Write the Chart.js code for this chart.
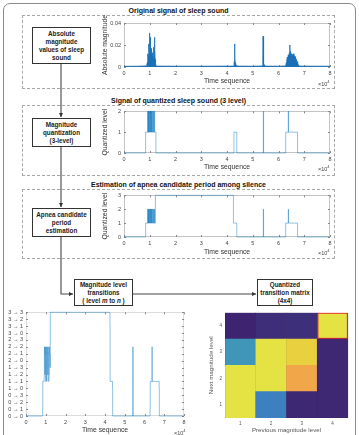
<!DOCTYPE html>
<html>
<head>
<meta charset="utf-8">
<script src="https://cdn.jsdelivr.net/npm/chart.js@4.4.0/dist/chart.umd.min.js"></script>
<style>
  body { margin: 0; background: #fff; font-family: "Liberation Sans", Arial, sans-serif; }
  #page { position: relative; width: 359px; height: 435px; overflow: hidden; }
  .outer { position: absolute; left: 3px; top: 3px; width: 351px; height: 440px; border: 1px solid #8c8c8c; border-radius: 7px; }
  .dash { position: absolute; left: 22px; width: 311px; border: 1px dashed #a8a8a8; }
  .ttl { position: absolute; left: 22px; width: 313px; text-align: center; font-weight: bold; font-size: 7px; line-height: 8px; color: #111; }
  .box { position: absolute; box-sizing: border-box; border: 1.5px solid #333; background: #fff; display: flex; align-items: center; justify-content: center; text-align: center; font-weight: bold; font-size: 6.3px; line-height: 8px; color: #222; white-space: nowrap; }
  canvas { position: absolute; }
  .exp { position: absolute; font-size: 5.5px; color: #444; line-height: 6px; }
  .exp sup { font-size: 4px; }
</style>
</head>
<body>
<div id="page">
  <div class="outer"></div>

  <div class="dash" style="top:15px;height:72px"></div>
  <div class="dash" style="top:105px;height:69px"></div>
  <div class="dash" style="top:189px;height:68px"></div>

  <svg width="359" height="435" style="position:absolute;left:0;top:0">
    <defs>
      <marker id="ar" markerWidth="4" markerHeight="4" refX="4" refY="2" orient="auto">
        <path d="M0,0 L4,2 L0,4 z" fill="#333"/>
      </marker>
    </defs>
    <path d="M61,64 V117" stroke="#444" stroke-width="1.1" fill="none" marker-end="url(#ar)"/>
    <path d="M61,147 V207" stroke="#444" stroke-width="1.1" fill="none" marker-end="url(#ar)"/>
    <path d="M61,237 V294 H73" stroke="#444" stroke-width="1.1" fill="none" marker-end="url(#ar)"/>
    <path d="M133,294 H256" stroke="#444" stroke-width="1.1" fill="none" marker-end="url(#ar)"/>
  </svg>

  <div class="ttl" style="top:7px">Original signal of sleep sound</div>
  <div class="ttl" style="top:97px">Signal of quantized sleep sound (3 level)</div>
  <div class="ttl" style="top:181px">Estimation of apnea candidate period among silence</div>

  <div class="box" style="left:32px;top:27px;width:59px;height:37px"><div>Absolute<br>magnitude<br>values of sleep<br>sound</div></div>
  <div class="box" style="left:32px;top:118px;width:59px;height:29px"><div>Magnitude<br>quantization<br>(3-level)</div></div>
  <div class="box" style="left:32px;top:208px;width:59px;height:29px"><div>Apnea candidate<br>period<br>estimation</div></div>
  <div class="box" style="left:74px;top:279px;width:59px;height:27px"><div>Magnitude level<br>transitions<br>( level <i>m</i> to <i>n</i> )</div></div>
  <div class="box" style="left:257px;top:279px;width:56px;height:27px"><div>Quantized<br>transition matrix<br>(4x4)</div></div>

  <canvas id="rawChart" width="235" height="74" style="left:100px;top:14px"></canvas>
  <canvas id="quantChart" width="235" height="69" style="left:100px;top:105px"></canvas>
  <canvas id="apneaChart" width="235" height="69" style="left:100px;top:189px"></canvas>
  <canvas id="transChart" width="190" height="129" style="left:0px;top:306px"></canvas>
  <canvas id="matrixChart" width="150" height="128" style="left:205px;top:307px"></canvas>

  <div class="exp" style="left:318px;top:79px">&times;10<sup>4</sup></div>
  <div class="exp" style="left:318px;top:164px">&times;10<sup>4</sup></div>
  <div class="exp" style="left:318px;top:248px">&times;10<sup>4</sup></div>
  <div class="exp" style="left:174px;top:428px">&times;10<sup>4</sup></div>
</div>

<script>
// time axis is in units of 10^4 samples
var timeTicks = [0, 1, 2, 3, 4, 5, 6, 7, 8];

// original signal (absolute magnitude)
var rawTime = [0, 0.5, 0.88,
    0.9, 0.91, 0.92, 0.93, 0.94, 0.95, 0.96, 0.97, 0.98, 0.99, 1.0, 1.01, 1.02, 1.03, 1.04, 1.05, 1.06,
    1.07, 1.08, 1.09, 1.1, 1.11, 1.12, 1.13, 1.14, 1.15, 1.16, 1.17, 1.18, 1.19, 1.2, 1.21, 1.22, 1.23,
    1.25, 2, 3,
    4.27, 4.28, 4.29, 4.3, 4.31, 4.32, 4.33, 4.35, 4.37, 5,
    5.38, 5.39, 5.4, 5.41, 5.42, 5.43, 5.44, 5.46, 6,
    6.28, 6.3, 6.32, 6.34, 6.36, 6.38, 6.4, 6.42, 6.44, 6.45, 6.46, 6.48, 6.5, 6.52, 6.54, 6.56, 6.58,
    6.6, 6.62, 6.64, 6.66, 6.68, 6.7, 6.72, 6.74, 6.76, 6.78, 6.8, 7.5, 8];
var rawMag = [0.0006, 0.0007, 0.001,
    0.004, 0.009, 0.006, 0.012, 0.01, 0.016, 0.011, 0.021, 0.013, 0.025, 0.031, 0.016, 0.027, 0.014, 0.019, 0.012, 0.017,
    0.011, 0.014, 0.01, 0.013, 0.009, 0.012, 0.008, 0.013, 0.01, 0.018, 0.012, 0.027, 0.011, 0.016, 0.007, 0.006, 0.003,
    0.0008, 0.0007, 0.0007,
    0.0008, 0.005, 0.021, 0.004, 0.008, 0.003, 0.004, 0.0015, 0.0008, 0.0007,
    0.0009, 0.006, 0.028, 0.005, 0.007, 0.003, 0.002, 0.0008, 0.0007,
    0.001, 0.004, 0.006, 0.009, 0.007, 0.011, 0.009, 0.013, 0.02, 0.01, 0.014, 0.009, 0.012, 0.008, 0.011, 0.009, 0.012,
    0.008, 0.01, 0.007, 0.009, 0.006, 0.007, 0.004, 0.005, 0.002, 0.0015, 0.0008, 0.0007, 0.0007];

// quantized signal (3 level), each level holds until the next time
var quantTime = [0, 0.84, 0.92, 0.93, 0.94, 0.95, 0.96, 0.97, 0.98, 1.0, 1.01, 1.02, 1.03, 1.05, 1.06, 1.07, 1.08,
    1.1, 1.12, 1.13, 1.15, 1.16, 1.18, 1.19, 1.24, 4.27, 4.38, 5.41, 5.42, 6.28, 6.38, 6.39, 6.74, 8];
var quantLevel = [0, 1, 2, 1, 2, 1, 2, 1, 2, 1, 2, 1, 2, 1, 2, 1, 2,
    1, 2, 1, 2, 1, 2, 1, 0, 1, 0, 2, 0, 1, 2, 1, 0, 0];

// apnea candidate estimation (level 3 = apnea candidate)
var apneaTime = [0, 0.84, 0.92, 0.93, 0.94, 0.95, 0.96, 0.97, 0.98, 1.0, 1.01, 1.02, 1.03, 1.05, 1.06, 1.07, 1.08,
    1.1, 1.12, 1.13, 1.15, 1.16, 1.18, 1.19, 1.22, 4.25, 4.38, 5.41, 5.42, 6.28, 6.38, 6.39, 6.74, 8];
var apneaLevel = [0, 1, 2, 1, 2, 1, 2, 1, 2, 1, 2, 1, 2, 1, 2, 1, 2,
    1, 2, 1, 2, 1, 2, 1, 3, 1, 0, 2, 0, 1, 2, 1, 0, 0];

// level transitions m -> n, index = m * 4 + n
var transitionLabels = ['0 → 0', '0 → 1', '0 → 2', '0 → 3', '1 → 0', '1 → 1', '1 → 2', '1 → 3',
    '2 → 0', '2 → 1', '2 → 2', '2 → 3', '3 → 0', '3 → 1', '3 → 2', '3 → 3'];
var transTime = [0, 0.84, 0.85, 0.92, 0.93, 0.94, 0.95, 0.96, 0.97, 0.98, 1.0, 1.01, 1.02, 1.03, 1.05, 1.06, 1.07,
    1.08, 1.1, 1.12, 1.13, 1.15, 1.16, 1.18, 1.19, 1.22, 1.23, 4.25, 4.26, 4.38, 4.39, 5.41, 5.42,
    6.28, 6.29, 6.38, 6.39, 6.74, 6.75, 8];
var transIndex = [0, 1, 5, 6, 9, 10, 9, 6, 10, 9, 5, 6, 10, 9, 5, 6, 10,
    9, 6, 10, 9, 5, 6, 10, 9, 7, 15, 13, 5, 4, 0, 10, 0,
    1, 5, 10, 5, 4, 0, 0];

// quantized transition matrix, rows = next level 1..4, columns = previous level 1..4
var prevLevels = ['1', '2', '3', '4'];
var nextLevels = [1, 2, 3, 4];
var transitionMatrix = [
    [1.0, 0.42, 0.02, 0.02],
    [1.0, 1.0, 0.7, 0.02],
    [0.5, 1.0, 0.88, 0.02],
    [0.0, 0.04, 0.05, 1.0]
];
var highlightCell = { prev: 4, next: 4 };

var FONT = '"Liberation Sans", Arial, sans-serif';

// colour scale for the matrix
var colorStops = [
    [0, [62, 36, 112]],
    [0.42, [60, 128, 192]],
    [0.5, [64, 150, 185]],
    [0.7, [242, 166, 74]],
    [0.88, [232, 208, 62]],
    [1, [229, 227, 68]]
];
function colormap(v) {
    for (var i = 1; i < colorStops.length; i++) {
        if (v <= colorStops[i][0]) {
            var a = colorStops[i - 1], b = colorStops[i];
            var t = (v - a[0]) / (b[0] - a[0]);
            var c = a[1].map(function (x, k) { return Math.round(x + (b[1][k] - x) * t); });
            return 'rgb(' + c.join(',') + ')';
        }
    }
    return 'rgb(' + colorStops[colorStops.length - 1][1].join(',') + ')';
}

function points(xs, ys) {
    return xs.map(function (x, i) { return { x: x, y: ys[i] }; });
}

// matlab style axes box with small inward ticks, drawn under the data
var framePlugin = {
    id: 'frame',
    beforeDatasetsDraw: function (chart, args, opts) {
        if (!opts.show) return;
        var ctx = chart.ctx, a = chart.chartArea;
        ctx.save();
        ctx.strokeStyle = opts.color;
        ctx.lineWidth = 1;
        ctx.strokeRect(Math.round(a.left) + 0.5, Math.round(a.top) + 0.5, Math.round(a.width) - 1, Math.round(a.height) - 1);
        ctx.strokeStyle = '#8a8a8a';
        ctx.beginPath();
        chart.scales.x.ticks.forEach(function (t) {
            var px = Math.round(chart.scales.x.getPixelForValue(t.value)) + 0.5;
            ctx.moveTo(px, a.bottom); ctx.lineTo(px, a.bottom - 2);
            ctx.moveTo(px, a.top); ctx.lineTo(px, a.top + 2);
        });
        chart.scales.y.ticks.forEach(function (t) {
            var py = Math.round(chart.scales.y.getPixelForValue(t.value)) + 0.5;
            ctx.moveTo(a.left, py); ctx.lineTo(a.left + 2, py);
            ctx.moveTo(a.right, py); ctx.lineTo(a.right - 2, py);
        });
        ctx.stroke();
        ctx.restore();
    }
};
Chart.register(framePlugin);

function timeChart(id, datasets, y, xTitlePad) {
    return new Chart(document.getElementById(id), {
        type: 'line',
        data: { datasets: datasets },
        options: {
            responsive: false,
            animation: false,
            layout: { padding: { top: y.padTop || 5, right: y.padRight || 5 } },
            plugins: {
                legend: { display: false },
                tooltip: { enabled: false },
                frame: { show: true, color: y.frameColor || '#c4c4c4' }
            },
            elements: { point: { radius: 0 } },
            scales: {
                x: {
                    type: 'linear', min: 0, max: 8,
                    afterBuildTicks: function (s) { s.ticks = timeTicks.map(function (v) { return { value: v }; }); },
                    grid: { display: false, drawTicks: false },
                    border: { display: false },
                    ticks: { font: { family: FONT, size: 5.5 }, color: '#444', padding: 3, maxRotation: 0 },
                    title: { display: true, text: 'Time sequence', font: { family: FONT, size: 6.8 }, color: '#333', padding: xTitlePad },
                    afterFit: function (s) { s.height = y.xHeight; }
                },
                y: {
                    type: 'linear', min: y.min, max: y.max,
                    afterBuildTicks: function (s) { s.ticks = y.ticks.map(function (v) { return { value: v }; }); },
                    grid: { display: false, drawTicks: false },
                    border: { display: false },
                    ticks: { font: { family: FONT, size: 5.5 }, color: '#444', padding: 3, autoSkip: false, callback: y.callback },
                    title: { display: !!y.title, text: y.title, font: { family: FONT, size: 6.8 }, color: '#333', padding: 1 },
                    afterFit: function (s) { s.width = y.width; }
                }
            }
        }
    });
}

var blue = '#1a6fb6';
var thinBlue = 'rgba(0, 114, 189, 0.55)';

timeChart('rawChart', [{
    data: points(rawTime, rawMag),
    borderColor: blue, borderWidth: 0.8,
    backgroundColor: blue, fill: 'origin'
}], { min: 0, max: 0.04, ticks: [0, 0.02, 0.04], title: 'Absolute magnitude', width: 24, xHeight: 21, padTop: 9,
    callback: function (v) { return v === 0 ? '0' : v.toFixed(2); } }, 3);

timeChart('quantChart', [{
    data: points(quantTime, quantLevel),
    borderColor: thinBlue, borderWidth: 0.8, stepped: 'before', fill: false, clip: 2
}], { min: 0, max: 2, ticks: [0, 1, 2], title: 'Quantized level', width: 24, xHeight: 21 }, 3);

timeChart('apneaChart', [{
    data: points(apneaTime, apneaLevel),
    borderColor: thinBlue, borderWidth: 0.8, stepped: 'before', fill: false, clip: 2
}], { min: 0, max: 3, ticks: [0, 1, 2, 3], title: 'Quantized level', width: 24, xHeight: 21 }, 2);

timeChart('transChart', [{
    data: points(transTime, transIndex),
    borderColor: thinBlue, borderWidth: 0.8, stepped: 'before', fill: false, clip: 2
}], { min: 0, max: 15, ticks: transitionLabels.map(function (l, i) { return i; }), title: '', width: 26, xHeight: 19,
    padTop: 6, padRight: 6, frameColor: '#dcdcdc',
    callback: function (v) { return transitionLabels[v]; } }, 1);

// transition matrix drawn as floating bars, one dataset per next level
var matrixDatasets = nextLevels.map(function (next, r) {
    return {
        data: prevLevels.map(function () { return [next - 0.5, next + 0.5]; }),
        backgroundColor: transitionMatrix[r].map(colormap),
        borderColor: prevLevels.map(function (p) {
            return (+p === highlightCell.prev && next === highlightCell.next) ? '#e0282a' : 'rgba(0,0,0,0)';
        }),
        borderWidth: prevLevels.map(function (p) {
            return (+p === highlightCell.prev && next === highlightCell.next) ? 1.5 : 0;
        }),
        borderSkipped: false,
        grouped: false,
        barPercentage: 1,
        categoryPercentage: 1
    };
});

new Chart(document.getElementById('matrixChart'), {
    type: 'bar',
    data: { labels: prevLevels, datasets: matrixDatasets },
    options: {
        responsive: false,
        animation: false,
        layout: { padding: { top: 5, right: 7 } },
        plugins: { legend: { display: false }, tooltip: { enabled: false }, frame: { show: false } },
        scales: {
            x: {
                grid: { display: true, drawTicks: false, z: 1, color: 'rgba(0,0,0,0.07)' },
                border: { display: false },
                ticks: { font: { family: FONT, size: 4.5 }, color: '#555', padding: 3 },
                title: { display: true, text: 'Previous magnitude level', font: { family: FONT, size: 6.2 }, color: '#555', padding: 0.5 },
                afterFit: function (s) { s.height = 17; }
            },
            y: {
                type: 'linear', min: 0.5, max: 4.5,
                afterBuildTicks: function (s) { s.ticks = nextLevels.map(function (v) { return { value: v }; }); },
                grid: { display: false, drawTicks: false },
                border: { display: false },
                ticks: { font: { family: FONT, size: 4.5 }, color: '#555', padding: 3 },
                title: { display: true, text: 'Next magnitude level', font: { family: FONT, size: 6.2 }, color: '#555', padding: 3 },
                afterFit: function (s) { s.width = 20; }
            }
        }
    }
});
</script>
</body>
</html>
